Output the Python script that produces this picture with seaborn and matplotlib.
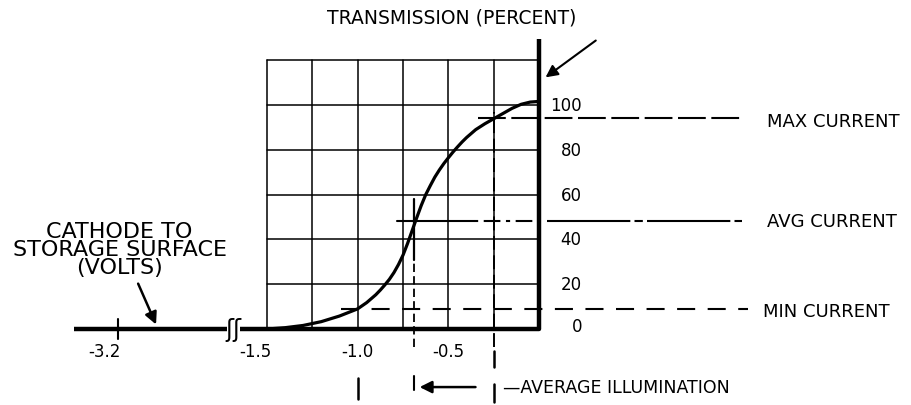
import matplotlib
matplotlib.use("Agg")
import matplotlib.pyplot as plt
import seaborn as sns
import pandas as pd

# transmission curve (volts, percent)
volts = [-1.50, -1.40, -1.30, -1.20, -1.10, -1.00, -0.95, -0.90, -0.875, -0.85,
         -0.825, -0.80, -0.775, -0.75, -0.725, -0.70, -0.675, -0.65, -0.625, -0.60,
         -0.575, -0.55, -0.525, -0.50, -0.475, -0.45, -0.425, -0.40, -0.35, -0.30,
         -0.25, -0.20, -0.15, -0.10, -0.05, 0.00]
transmission = [0.0, 0.6, 1.6, 3.3, 5.8, 9.0, 11.8, 15.3, 17.4, 19.7,
                22.2, 25.2, 28.8, 33.0, 38.2, 43.9, 49.6, 55.1, 60.0, 64.0,
                67.8, 71.0, 73.9, 76.5, 79.0, 81.3, 83.5, 85.5, 89.0, 91.6,
                93.9, 96.2, 98.5, 100.3, 101.3, 101.6]

# current levels and where they cross the curve
min_current, avg_current, max_current = 9, 48, 94
v_min, v_avg, v_max = -1.0, -0.69, -0.25

grid_volts = [-1.5, -1.25, -1.0, -0.75, -0.5, -0.25, 0.0]
grid_pct = [0, 20, 40, 60, 80, 100, 120]
pct_labels = ["0", "20", "40", "60", "80", "100"]
volt_ticks = [-3.2, -1.5, -1.0, -0.5]
volt_labels = ["-3.2", "-1.5", "-1.0", "-0.5"]
break_shift = 0.88   # axis is broken between -3.2 and -1.5

plt.rcParams["lines.scale_dashes"] = False
sns.set_style("white")
plt.rcParams["font.family"] = ["DejaVu Sans"]
plt.rcParams["text.color"] = "black"

fig = plt.figure(figsize=(9.12, 4.06), dpi=100)
ax = fig.add_axes([0, 0, 1, 1])
ax.set_xlim(-2.968, 2.051)
ax.set_ylim(-33.9, 147.3)
ax.axis("off")

# grid
for v in grid_volts[:-1]:
    ax.plot([v, v], [0, grid_pct[-1]], color="black", lw=1.1)
for p in grid_pct[1:]:
    ax.plot([grid_volts[0], 0], [p, p], color="black", lw=1.1)

# axes (thick)
ax.plot([-2.56, -1.72], [0, 0], color="black", lw=3.2, solid_capstyle="butt")
ax.plot([-1.647, 0, 0], [0, 0, 129.5], color="black", lw=3.2,
        solid_joinstyle="round", solid_capstyle="butt")
ax.text(-1.685, 0, "ʃʃ", fontsize=17, ha="center", va="center")
ax.plot([volt_ticks[0] + break_shift] * 2, [-4.5, 4.5], color="black", lw=1.5)

# curve
df = pd.DataFrame({"volts": volts, "transmission": transmission})
sns.lineplot(data=df, x="volts", y="transmission", ax=ax, color="black",
             lw=2.3, sort=False)

# current levels
ax.plot([-1.09, 1.15], [min_current, min_current], color="black", lw=1.5,
        ls=(0, (13, 9)))
ax.plot([-0.34, 1.116], [max_current, max_current], color="black", lw=1.5,
        ls=(0, (20, 4)))
ax.plot([-0.785, -0.36], [avg_current, avg_current], color="black", lw=1.5)
ax.plot([-0.36, -0.02], [avg_current, avg_current], color="black", lw=1.5,
        ls=(0, (3, 4, 12, 4)))
ax.plot([0.045, 1.116], [avg_current, avg_current], color="black", lw=1.5,
        ls=(0, (60, 3, 6, 3)))

# voltage markers
ax.plot([v_avg, v_avg], [31, 58], color="black", lw=1.6)
ax.plot([v_avg, v_avg], [-8, 31], color="black", lw=1.3, ls=(0, (6, 3)))
ax.plot([v_avg, v_avg], [-21, -27], color="black", lw=1.5)
ax.plot([v_max, v_max], [-8, 97], color="black", lw=1.4, ls=(0, (10, 4)))
ax.plot([v_max, v_max], [-10, -17], color="black", lw=1.8)
ax.plot([v_max, v_max], [-24.5, -32.6], color="black", lw=1.8)
ax.plot([v_min, v_min], [-22, -31], color="black", lw=1.8)

# axis labels
for v, lab, dx in zip(volt_ticks, volt_labels, [-0.072, -0.064, 0.0, 0.0]):
    x = v + break_shift if v < -1.5 else v
    ax.text(x + dx, -9.8, lab, fontsize=12, ha="center", va="center")
for p, lab in zip(grid_pct[:-1], pct_labels):
    x = 0.148 if lab == "100" else (0.208 if lab == "0" else 0.175)
    y = 1.5 if lab == "0" else p
    ax.text(x, y, lab, fontsize=12, ha="center", va="center")

ax.text(-0.48, 139.3, "TRANSMISSION (PERCENT)", fontsize=13.5, ha="center", va="center")
ax.annotate("", xy=(0.022, 111.6), xytext=(0.323, 129.5),
            arrowprops=dict(arrowstyle="-|>", color="black", lw=1.5,
                            mutation_scale=18))

ax.text(-2.31, 35.7, "CATHODE TO\nSTORAGE SURFACE\n(VOLTS)", fontsize=16,
        ha="center", va="center", linespacing=0.9)
ax.annotate("", xy=(-2.103, 0.9), xytext=(-2.214, 21.4),
            arrowprops=dict(arrowstyle="-|>", color="black", lw=1.8,
                            mutation_scale=18))

ax.text(1.252, max_current - 1, "MAX CURRENT", fontsize=13, va="center")
ax.text(1.252, avg_current, "AVG CURRENT", fontsize=13, va="center")
ax.text(1.23, min_current - 1, "MIN CURRENT", fontsize=13, va="center")

ax.annotate("", xy=(-0.674, -25.9), xytext=(-0.336, -25.9),
            arrowprops=dict(arrowstyle="-|>", color="black", lw=1.8,
                            mutation_scale=18))
ax.text(-0.199, -25.9, "—AVERAGE ILLUMINATION", fontsize=12.5, va="center")

fig.savefig("out.png", dpi=100)
